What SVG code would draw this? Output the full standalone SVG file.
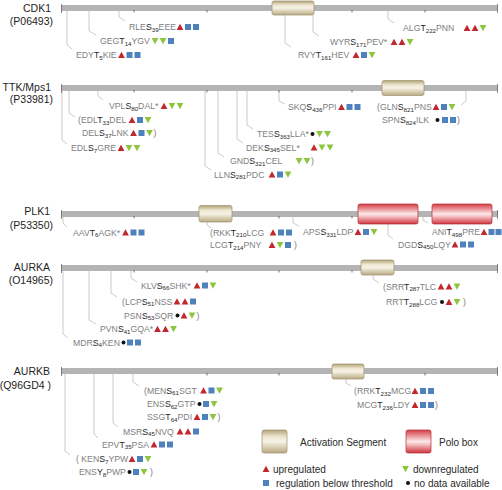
<svg xmlns="http://www.w3.org/2000/svg" width="502" height="490" viewBox="0 0 502 490">
<style>
text{font-family:"Liberation Sans",Arial,sans-serif}
.l{font-size:8.7px;fill:#808080}
.r{fill:#1e1e1e}
.n{font-size:6.2px;fill:#2a2a2a}
.nm{font-size:10.5px;fill:#1e1e1e;text-anchor:end}
.lg{font-size:10px;fill:#2a2a2a}
.bar{fill:#b4b4b4}
.end{stroke:#6a6a6a;stroke-width:0.8}
.tk{stroke:#555;stroke-width:0.8}
.as{fill:url(#ag);stroke:#9d9070;stroke-width:0.7}
.pb{fill:url(#pg);stroke:#b32c35;stroke-width:0.7}
#conn path{fill:none;stroke:#bdbdbd;stroke-width:0.8}
</style>
<defs>
<linearGradient id="ag" x1="0" y1="0" x2="0" y2="1">
<stop offset="0" stop-color="#b3a378"/>
<stop offset="0.3" stop-color="#eee7d2"/>
<stop offset="0.5" stop-color="#f6f2e5"/>
<stop offset="1" stop-color="#b9aa80"/>
</linearGradient>
<linearGradient id="pg" x1="0" y1="0" x2="0" y2="1">
<stop offset="0" stop-color="#d63e47"/>
<stop offset="0.5" stop-color="#fde9e9"/>
<stop offset="0.62" stop-color="#f5c3c5"/>
<stop offset="1" stop-color="#cf343d"/>
</linearGradient>
<path id="u" d="M0,-3.3 L3.4,2.9 L-3.4,2.9 Z" fill="#c1272d"/>
<rect id="s" x="-3" y="-3" width="6" height="6" fill="#4f81bd"/>
<path id="d" d="M-3.4,-2.9 L3.4,-2.9 L0,3.3 Z" fill="#8cc63f"/>
<circle id="c" r="2" fill="#111"/>
</defs>

<g id="conn">
<path d="M119,11 V17 L125,21"/>
<path d="M89,11 V31 L96,35"/>
<path d="M67,11 V45 L72,49"/>
<path d="M388,11 V19 L394,23"/>
<path d="M313,15 V32 L319,36"/>
<path d="M285,15 V43 L291,47"/>
<path d="M98,91 V96 L103,100"/>
<path d="M69,91 V113 L75,117"/>
<path d="M62,91 V140 L67,144"/>
<path d="M279,91 V101 L285,104"/>
<path d="M247,91 V125 L253,129"/>
<path d="M237,91 V139 L243,143"/>
<path d="M218,91 V153 L224,157"/>
<path d="M205,91 V166 L211,170"/>
<path d="M466,91 V101 L461,105"/>
<path d="M63,217 V223 L67,227"/>
<path d="M207,222 V225 L211,228"/>
<path d="M293,217 V223 L299,226"/>
<path d="M388,224 V235 L393,239"/>
<path d="M423,217 V220 L428,223"/>
<path d="M131,271 V278 L137,282"/>
<path d="M111,271 V293 L117,297"/>
<path d="M89,271 V320 L96,324"/>
<path d="M63,271 V334 L68,338"/>
<path d="M373,275 V279 L379,283"/>
<path d="M133,374 V382 L139,386"/>
<path d="M113,374 V423 L118,427"/>
<path d="M94,374 V434 L98,438"/>
<path d="M65,374 V451 L70,455"/>
<path d="M346,379 V383 L351,386"/>
</g>

<g id="cdk1">
<rect class="bar" x="61" y="5" width="437" height="6"/>
<path class="end" d="M61.5,4 V13 M497.5,4 V13"/>
<path class="tk" d="M134,10 V12.5 M207,10 V12.5 M352,10 V12.5 M425,10 V12.5"/>
<rect class="as" x="272" y="1" width="42" height="14" rx="2"/>
<text class="nm" x="51" y="11.5">CDK1</text>
<text class="nm" x="53" y="24.5">(P06493)</text>
<g id="cdk1-s39"><text class="l" x="129" y="30.1">RLE<tspan class="r">S</tspan><tspan class="n" dy="1.8">39</tspan><tspan dy="-1.8">EEE</tspan></text><use href="#u" x="180" y="27"/><use href="#s" x="188" y="27"/><use href="#s" x="196" y="27"/></g>
<g id="cdk1-t14"><text class="l" x="100" y="44.1">GEG<tspan class="r">T</tspan><tspan class="n" dy="1.8">14</tspan><tspan dy="-1.8">YGV</tspan></text><use href="#d" x="155" y="41"/><use href="#d" x="163" y="41"/><use href="#s" x="171" y="41"/></g>
<g id="cdk1-t5"><text class="l" x="76" y="58.1">EDY<tspan class="r">T</tspan><tspan class="n" dy="1.8">5</tspan><tspan dy="-1.8">KIE</tspan></text><use href="#u" x="121.5" y="55"/><use href="#s" x="129.5" y="55"/><use href="#s" x="137.5" y="55"/></g>
<g id="cdk1-t222"><text class="l" x="403" y="31.1">ALG<tspan class="r">T</tspan><tspan class="n" dy="1.8">222</tspan><tspan dy="-1.8">PNN</tspan></text><use href="#u" x="467" y="28"/><use href="#u" x="475" y="28"/><use href="#d" x="483" y="28"/></g>
<g id="cdk1-s171"><text class="l" x="330" y="45.1">WYR<tspan class="r">S</tspan><tspan class="n" dy="1.8">171</tspan><tspan dy="-1.8">PEV*</tspan></text><use href="#u" x="394" y="42"/><use href="#u" x="402" y="42"/><use href="#d" x="410" y="42"/></g>
<g id="cdk1-t161"><text class="l" x="298" y="58.1">RVY<tspan class="r">T</tspan><tspan class="n" dy="1.8">161</tspan><tspan dy="-1.8">HEV</tspan></text><use href="#u" x="356" y="55"/><use href="#s" x="364" y="55"/><use href="#d" x="372" y="55"/></g>
</g>

<g id="ttk">
<rect class="bar" x="61" y="85" width="437" height="6"/>
<path class="end" d="M61.5,84 V93 M497.5,84 V93"/>
<path class="tk" d="M134,90 V92.5 M207,90 V92.5 M279,90 V92.5 M352,90 V92.5"/>
<rect class="as" x="382" y="80.5" width="42" height="15" rx="2"/>
<text class="nm" x="51" y="90.5">TTK/Mps1</text>
<text class="nm" x="53" y="103">(P33981)</text>
<g id="ttk-s80"><text class="l" x="109" y="109.1">VPL<tspan class="r">S</tspan><tspan class="n" dy="1.8">80</tspan><tspan dy="-1.8">DAL*</tspan></text><use href="#u" x="164" y="106"/><use href="#d" x="172" y="106"/><use href="#d" x="180" y="106"/></g>
<g id="ttk-t33"><text class="l" x="78" y="123.1">(EDL<tspan class="r">T</tspan><tspan class="n" dy="1.8">33</tspan><tspan dy="-1.8">DEL</tspan></text><use href="#u" x="132" y="120"/><use href="#s" x="140" y="120"/><use href="#d" x="148" y="120"/></g>
<g id="ttk-s37"><text class="l" x="82" y="136.1">DEL<tspan class="r">S</tspan><tspan class="n" dy="1.8">37</tspan><tspan dy="-1.8">LNK</tspan></text><use href="#u" x="133.5" y="133"/><use href="#s" x="141.5" y="133"/><use href="#d" x="149.5" y="133"/><text class="l" x="153.5" y="136.1">)</text></g>
<g id="ttk-s7"><text class="l" x="71" y="151.1">EDL<tspan class="r">S</tspan><tspan class="n" dy="1.8">7</tspan><tspan dy="-1.8">GRE</tspan></text><use href="#u" x="121" y="148"/><use href="#d" x="129" y="148"/><use href="#d" x="137" y="148"/></g>
<g id="ttk-s436"><text class="l" x="288" y="110.1">SKQ<tspan class="r">S</tspan><tspan class="n" dy="1.8">436</tspan><tspan dy="-1.8">PPI</tspan></text><use href="#u" x="341.5" y="107"/><use href="#s" x="349.5" y="107"/><use href="#s" x="357.5" y="107"/></g>
<g id="ttk-s363"><text class="l" x="257" y="137.1">TES<tspan class="r">S</tspan><tspan class="n" dy="1.8">363</tspan><tspan dy="-1.8">LLA*</tspan></text><use href="#c" x="312.5" y="134"/><use href="#d" x="319.5" y="134"/><use href="#d" x="327.5" y="134"/></g>
<g id="ttk-s345"><text class="l" x="246" y="150.6">DEK<tspan class="r">S</tspan><tspan class="n" dy="1.8">345</tspan><tspan dy="-1.8">SEL*</tspan></text><use href="#u" x="314" y="147.5"/><use href="#d" x="322" y="147.5"/><use href="#d" x="330" y="147.5"/></g>
<g id="ttk-s321"><text class="l" x="230" y="164.1">GND<tspan class="r">S</tspan><tspan class="n" dy="1.8">321</tspan><tspan dy="-1.8">CEL</tspan></text><use href="#d" x="299" y="161"/><use href="#d" x="307" y="161"/><text class="l" x="311" y="164.1">)</text></g>
<g id="ttk-s281"><text class="l" x="214" y="177.6">LLN<tspan class="r">S</tspan><tspan class="n" dy="1.8">281</tspan><tspan dy="-1.8">PDC</tspan></text><use href="#u" x="272" y="174.5"/><use href="#s" x="280" y="174.5"/><use href="#d" x="288" y="174.5"/></g>
<g id="ttk-s821"><text class="l" x="377" y="110.1">(GLN<tspan class="r">S</tspan><tspan class="n" dy="1.8">821</tspan><tspan dy="-1.8">PNS</tspan></text><use href="#u" x="436" y="107"/><use href="#s" x="444" y="107"/><use href="#d" x="452" y="107"/></g>
<g id="ttk-s824"><text class="l" x="382" y="123.1">SPN<tspan class="r">S</tspan><tspan class="n" dy="1.8">824</tspan><tspan dy="-1.8">ILK</tspan></text><use href="#c" x="437.5" y="120"/><use href="#s" x="445" y="120"/><use href="#s" x="453" y="120"/><text class="l" x="457" y="123.1">)</text></g>
</g>

<g id="plk1">
<rect class="bar" x="61" y="211" width="437" height="6"/>
<path class="end" d="M61.5,210 V219 M497.5,210 V219"/>
<path class="tk" d="M134,216 V218.5 M279,216 V218.5 M352,216 V218.5"/>
<rect class="as" x="199" y="205.5" width="33" height="16.5" rx="2"/>
<rect class="pb" x="358" y="204" width="60" height="20" rx="2"/>
<rect class="pb" x="432" y="204" width="60" height="20" rx="2"/>
<text class="nm" x="50" y="215">PLK1</text>
<text class="nm" x="53" y="229">(P53350)</text>
<g id="plk1-t6"><text class="l" x="73" y="235.6">AAV<tspan class="r">T</tspan><tspan class="n" dy="1.8">6</tspan><tspan dy="-1.8">AGK*</tspan></text><use href="#u" x="125.5" y="232.5"/><use href="#s" x="133.5" y="232.5"/><use href="#s" x="141.5" y="232.5"/></g>
<g id="plk1-t210"><text class="l" x="210" y="235.6">(RKK<tspan class="r">T</tspan><tspan class="n" dy="1.8">210</tspan><tspan dy="-1.8">LCG</tspan></text><use href="#u" x="273" y="232.5"/><use href="#s" x="281" y="232.5"/><use href="#s" x="289" y="232.5"/></g>
<g id="plk1-t214"><text class="l" x="210" y="248.1">LCG<tspan class="r">T</tspan><tspan class="n" dy="1.8">214</tspan><tspan dy="-1.8">PNY</tspan></text><use href="#u" x="272" y="245"/><use href="#d" x="280" y="245"/><use href="#s" x="288" y="245"/><text class="l" x="294" y="248.1">)</text></g>
<g id="plk1-s331"><text class="l" x="303" y="235.1">APS<tspan class="r">S</tspan><tspan class="n" dy="1.8">331</tspan><tspan dy="-1.8">LDP</tspan></text><use href="#u" x="358" y="232"/><use href="#s" x="366" y="232"/><use href="#d" x="374" y="232"/></g>
<g id="plk1-s450"><text class="l" x="398" y="247.6">DGD<tspan class="r">S</tspan><tspan class="n" dy="1.8">450</tspan><tspan dy="-1.8">LQY</tspan></text><use href="#u" x="455" y="244.5"/><use href="#s" x="463" y="244.5"/><use href="#s" x="471" y="244.5"/></g>
<g id="plk1-t498"><text class="l" x="432" y="235.1">ANI<tspan class="r">T</tspan><tspan class="n" dy="1.8">498</tspan><tspan dy="-1.8">PRE</tspan></text><use href="#u" x="484" y="232"/><use href="#s" x="491.5" y="232"/><use href="#s" x="498.5" y="232"/></g>
</g>

<g id="aurka">
<rect class="bar" x="61" y="265" width="437" height="6"/>
<path class="end" d="M61.5,264 V273 M497.5,264 V273"/>
<path class="tk" d="M134,270 V272.5 M207,270 V272.5 M279,270 V272.5 M352,270 V272.5"/>
<rect class="as" x="361" y="260" width="33" height="15" rx="2"/>
<text class="nm" x="50" y="270.5">AURKA</text>
<text class="nm" x="53" y="284">(O14965)</text>
<g id="aurka-s66"><text class="l" x="141" y="288.6">KLV<tspan class="r">S</tspan><tspan class="n" dy="1.8">66</tspan><tspan dy="-1.8">SHK*</tspan></text><use href="#u" x="197" y="285.5"/><use href="#s" x="205" y="285.5"/><use href="#d" x="213" y="285.5"/></g>
<g id="aurka-s51"><text class="l" x="122" y="304.6">(LCP<tspan class="r">S</tspan><tspan class="n" dy="1.8">51</tspan><tspan dy="-1.8">NSS</tspan></text><use href="#u" x="177" y="301.5"/><use href="#u" x="185" y="301.5"/><use href="#s" x="193" y="301.5"/></g>
<g id="aurka-s53"><text class="l" x="124" y="318.6">PSN<tspan class="r">S</tspan><tspan class="n" dy="1.8">53</tspan><tspan dy="-1.8">SQR</tspan></text><use href="#c" x="177.5" y="315.5"/><use href="#u" x="184" y="315.5"/><use href="#d" x="192" y="315.5"/><text class="l" x="196.5" y="318.6">)</text></g>
<g id="aurka-s41"><text class="l" x="100" y="332.1">PVN<tspan class="r">S</tspan><tspan class="n" dy="1.8">41</tspan><tspan dy="-1.8">GQA*</tspan></text><use href="#u" x="157.5" y="329"/><use href="#u" x="165.5" y="329"/><use href="#d" x="173.5" y="329"/></g>
<g id="aurka-s4"><text class="l" x="73" y="345.6">MDR<tspan class="r">S</tspan><tspan class="n" dy="1.8">4</tspan><tspan dy="-1.8">KEN</tspan></text><use href="#c" x="123.5" y="342.5"/><use href="#s" x="130" y="342.5"/><use href="#s" x="138" y="342.5"/></g>
<g id="aurka-t287"><text class="l" x="383" y="289.6">(SRR<tspan class="r">T</tspan><tspan class="n" dy="1.8">287</tspan><tspan dy="-1.8">TLC</tspan></text><use href="#u" x="441" y="286.5"/><use href="#u" x="449" y="286.5"/><use href="#d" x="457" y="286.5"/></g>
<g id="aurka-t288"><text class="l" x="386" y="305.1">RRT<tspan class="r">T</tspan><tspan class="n" dy="1.8">288</tspan><tspan dy="-1.8">LCG</tspan></text><use href="#c" x="442" y="302"/><use href="#u" x="449" y="302"/><use href="#d" x="457" y="302"/><text class="l" x="463" y="305.1">)</text></g>
</g>

<g id="aurkb">
<rect class="bar" x="61" y="368" width="437" height="6"/>
<path class="end" d="M61.5,367 V376 M497.5,367 V376"/>
<path class="tk" d="M207,373 V375.5 M279,373 V375.5 M425,373 V375.5"/>
<rect class="as" x="332" y="364" width="32" height="15" rx="2"/>
<text class="nm" x="50" y="374.5">AURKB</text>
<text class="nm" x="51" y="389">(Q96GD4 )</text>
<g id="aurkb-s61"><text class="l" x="144" y="393.6">(MEN<tspan class="r">S</tspan><tspan class="n" dy="1.8">61</tspan><tspan dy="-1.8">SGT</tspan></text><use href="#u" x="203.5" y="390.5"/><use href="#s" x="211.5" y="390.5"/><use href="#d" x="219.5" y="390.5"/></g>
<g id="aurkb-s62"><text class="l" x="147" y="407.1">ENS<tspan class="r">S</tspan><tspan class="n" dy="1.8">62</tspan><tspan dy="-1.8">GTP</tspan></text><use href="#c" x="199.5" y="404"/><use href="#s" x="206" y="404"/><use href="#d" x="214" y="404"/></g>
<g id="aurkb-t64"><text class="l" x="147" y="420.1">SSG<tspan class="r">T</tspan><tspan class="n" dy="1.8">64</tspan><tspan dy="-1.8">PDI</tspan></text><use href="#u" x="197" y="417"/><use href="#s" x="205" y="417"/><use href="#d" x="213" y="417"/><text class="l" x="217.5" y="420.1">)</text></g>
<g id="aurkb-s45"><text class="l" x="123" y="434.6">MSR<tspan class="r">S</tspan><tspan class="n" dy="1.8">45</tspan><tspan dy="-1.8">NVQ</tspan></text><use href="#u" x="180" y="431.5"/><use href="#u" x="188" y="431.5"/><use href="#s" x="196" y="431.5"/></g>
<g id="aurkb-t35"><text class="l" x="102" y="447.6">EPV<tspan class="r">T</tspan><tspan class="n" dy="1.8">35</tspan><tspan dy="-1.8">PSA</tspan></text><use href="#u" x="154" y="444.5"/><use href="#s" x="162" y="444.5"/><use href="#s" x="170" y="444.5"/></g>
<g id="aurkb-s7"><text class="l" x="76" y="462.1">( KEN<tspan class="r">S</tspan><tspan class="n" dy="1.8">7</tspan><tspan dy="-1.8">YPW</tspan></text><use href="#u" x="132" y="459"/><use href="#s" x="140" y="459"/><use href="#d" x="148" y="459"/></g>
<g id="aurkb-y8"><text class="l" x="79" y="475.1">ENS<tspan class="r">Y</tspan><tspan class="n" dy="1.8">8</tspan><tspan dy="-1.8">PWP</tspan></text><use href="#c" x="129.5" y="472"/><use href="#s" x="136" y="472"/><use href="#d" x="144" y="472"/><text class="l" x="150" y="475.1">)</text></g>
<g id="aurkb-t232"><text class="l" x="354" y="394.1">(RRK<tspan class="r">T</tspan><tspan class="n" dy="1.8">232</tspan><tspan dy="-1.8">MCG</tspan></text><use href="#u" x="415" y="391"/><use href="#s" x="423" y="391"/><use href="#s" x="431" y="391"/></g>
<g id="aurkb-t236"><text class="l" x="357" y="408.1">MCG<tspan class="r">T</tspan><tspan class="n" dy="1.8">236</tspan><tspan dy="-1.8">LDY</tspan></text><use href="#u" x="415" y="405"/><use href="#s" x="423" y="405"/><use href="#s" x="431" y="405"/><text class="l" x="435" y="408.1">)</text></g>
</g>

<g id="legend">
<rect class="as" x="262" y="430" width="25" height="23" rx="2"/>
<text class="lg" x="300" y="446">Activation Segment</text>
<rect class="pb" x="406" y="430" width="25" height="23" rx="2"/>
<text class="lg" x="439" y="446">Polo box</text>
<use href="#u" x="266" y="469"/>
<text class="lg" x="273" y="472.5">upregulated</text>
<use href="#d" x="405.5" y="469"/>
<text class="lg" x="413" y="472.5">downregulated</text>
<use href="#s" x="266" y="483"/>
<text class="lg" x="276" y="486.5">regulation below threshold</text>
<use href="#c" x="408" y="483"/>
<text class="lg" x="414" y="486.5">no data available</text>
</g>
</svg>
